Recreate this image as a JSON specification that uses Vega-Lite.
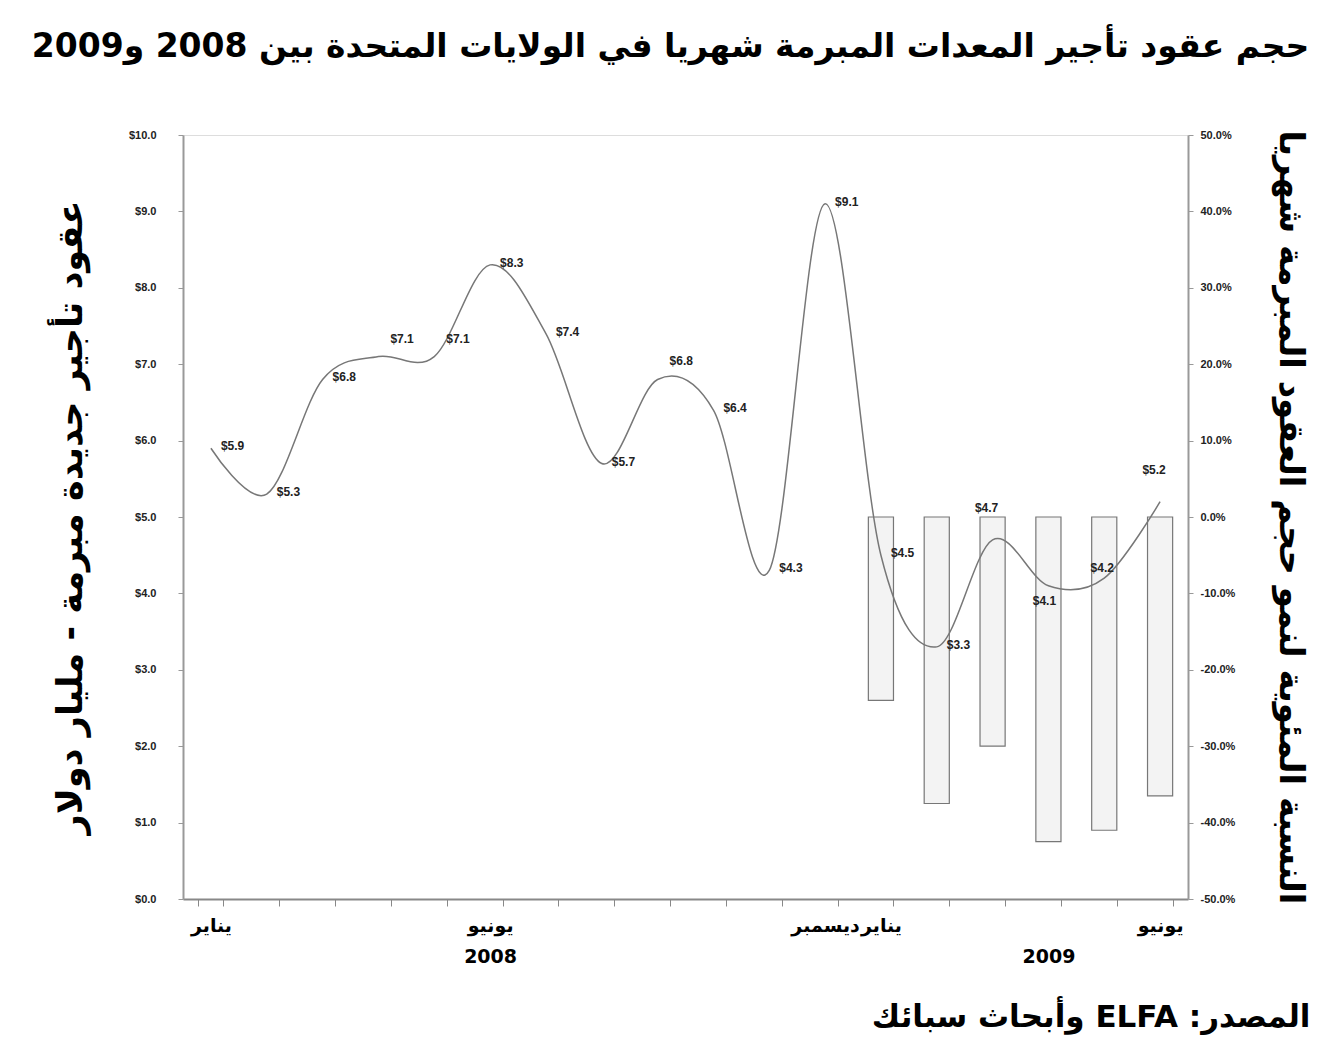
{
  "$schema": "https://vega.github.io/schema/vega-lite/v6.json",
  "width": 1005,
  "height": 764,
  "autosize": "none",
  "padding": {"left": 183, "top": 135, "right": 154, "bottom": 141},
  "background": "white",
  "title": {
    "text": "\u202bحجم عقود تأجير المعدات المبرمة شهريا في الولايات المتحدة بين 2008 و2009\u202c",
    "anchor": "middle",
    "frame": "group",
    "font": "DejaVu Sans",
    "fontSize": 33,
    "fontWeight": "bold",
    "color": "black",
    "offset": 65,
    "dx": -15
  },
  "data": {
    "values": [
      {"m": "2008-01", "v": 5.9, "g": null},
      {"m": "2008-02", "v": 5.3, "g": null},
      {"m": "2008-03", "v": 6.8, "g": null},
      {"m": "2008-04", "v": 7.1, "g": null},
      {"m": "2008-05", "v": 7.1, "g": null},
      {"m": "2008-06", "v": 8.3, "g": null},
      {"m": "2008-07", "v": 7.4, "g": null},
      {"m": "2008-08", "v": 5.7, "g": null},
      {"m": "2008-09", "v": 6.8, "g": null},
      {"m": "2008-10", "v": 6.4, "g": null},
      {"m": "2008-11", "v": 4.3, "g": null},
      {"m": "2008-12", "v": 9.1, "g": null},
      {"m": "2009-01", "v": 4.5, "g": -24},
      {"m": "2009-02", "v": 3.3, "g": -37.5},
      {"m": "2009-03", "v": 4.7, "g": -30},
      {"m": "2009-04", "v": 4.1, "g": -42.5},
      {"m": "2009-05", "v": 4.2, "g": -41},
      {"m": "2009-06", "v": 5.2, "g": -36.5}
    ]
  },
  "encoding": {
    "x": {
      "field": "m",
      "type": "ordinal",
      "sort": "ascending",
      "scale": {"paddingInner": 0.55, "paddingOuter": 0.275},
      "axis": {
        "title": "\u202bالمصدر: ELFA وأبحاث سبائك\u202c",
        "titleFont": "DejaVu Sans",
        "titleFontSize": 31,
        "titleFontWeight": "bold",
        "titleColor": "black",
        "titleAnchor": "end",
        "titleAlign": "right",
        "titleBaseline": "middle",
        "titleX": 1127,
        "titleY": 118,
        "labelExpr": "datum.value == '2008-01' ? 'يناير' : datum.value == '2008-06' ? ['يونيو', '2008'] : datum.value == '2008-12' ? 'ديسمبر' : datum.value == '2009-01' ? 'يناير' : datum.value == '2009-04' ? ['', '2009'] : datum.value == '2009-06' ? 'يونيو' : ''",
        "labelFont": "DejaVu Sans",
        "labelFontSize": 19,
        "labelFontWeight": "bold",
        "labelColor": "black",
        "labelAngle": 0,
        "labelPadding": 10,
        "labelLineHeight": 31,
        "labelOverlap": false,
        "tickBand": "extent",
        "tickSize": 7,
        "tickColor": "#888",
        "domainColor": "#888",
        "domainWidth": 2
      }
    }
  },
  "layer": [
    {
      "transform": [{"filter": "isValid(datum.g)"}],
      "mark": {"type": "bar", "fill": "#f3f3f3", "stroke": "#777", "strokeWidth": 1.2},
      "encoding": {
        "y": {
          "field": "g",
          "type": "quantitative",
          "scale": {"domain": [-50, 50]},
          "axis": {
            "orient": "right",
            "title": "النسبة المئوية لنمو حجم العقود المبرمة شهريا",
            "titleFont": "DejaVu Sans",
            "titleFontSize": 34,
            "titleFontWeight": "bold",
            "titleColor": "black",
            "titlePadding": 38,
            "values": [-50, -40, -30, -20, -10, 0, 10, 20, 30, 40, 50],
            "labelExpr": "replace(format(datum.value, '.1f'), '−', '-') + '%'",
            "labelFont": "Liberation Sans",
            "labelFontSize": 11,
            "labelFontWeight": "bold",
            "labelColor": "#222",
            "labelPadding": 7,
            "grid": false,
            "tickSize": 5,
            "tickColor": "#999",
            "domainColor": "#999",
            "domainWidth": 2
          }
        }
      }
    },
    {
      "mark": {"type": "line", "interpolate": "cardinal", "color": "#777", "strokeWidth": 1.5},
      "encoding": {
        "y": {
          "field": "v",
          "type": "quantitative",
          "scale": {"domain": [0, 10]},
          "axis": {
            "orient": "left",
            "title": "عقود تأجير جديدة مبرمة - مليار دولار",
            "titleFont": "DejaVu Sans",
            "titleFontSize": 35,
            "titleFontWeight": "bold",
            "titleColor": "black",
            "titlePadding": 40,
            "values": [0, 1, 2, 3, 4, 5, 6, 7, 8, 9, 10],
            "format": "$.1f",
            "labelFont": "Liberation Sans",
            "labelFontSize": 11,
            "labelFontWeight": "bold",
            "labelColor": "#222",
            "labelPadding": 22,
            "grid": false,
            "tickSize": 5,
            "tickColor": "#999",
            "domainColor": "#999",
            "domainWidth": 2
          }
        }
      }
    },
    {
      "transform": [{"filter": "indexof(['2008-04','2008-05','2008-09','2009-03','2009-04','2009-05','2009-06'], datum.m) < 0"}],
      "mark": {"type": "text", "align": "left", "baseline": "middle", "dx": 10, "dy": -2, "font": "Liberation Sans", "fontSize": 12, "fontWeight": "bold", "color": "#222"},
      "encoding": {
        "y": {"field": "v", "type": "quantitative", "scale": {"domain": [0, 10]}, "axis": null},
        "text": {"field": "v", "type": "quantitative", "format": "$.1f"}
      }
    },
    {
      "transform": [{"filter": "indexof(['2008-04','2008-05','2008-09'], datum.m) >= 0"}],
      "mark": {"type": "text", "align": "left", "baseline": "middle", "dx": 12, "dy": -18, "font": "Liberation Sans", "fontSize": 12, "fontWeight": "bold", "color": "#222"},
      "encoding": {
        "y": {"field": "v", "type": "quantitative", "scale": {"domain": [0, 10]}, "axis": null},
        "text": {"field": "v", "type": "quantitative", "format": "$.1f"}
      }
    },
    {
      "transform": [{"filter": "indexof(['2009-03','2009-06'], datum.m) >= 0"}],
      "mark": {"type": "text", "align": "center", "baseline": "middle", "dx": -6, "dy": -32, "font": "Liberation Sans", "fontSize": 12, "fontWeight": "bold", "color": "#222"},
      "encoding": {
        "y": {"field": "v", "type": "quantitative", "scale": {"domain": [0, 10]}, "axis": null},
        "text": {"field": "v", "type": "quantitative", "format": "$.1f"}
      }
    },
    {
      "transform": [{"filter": "datum.m == '2009-04'"}],
      "mark": {"type": "text", "align": "center", "baseline": "middle", "dx": -4, "dy": 15, "font": "Liberation Sans", "fontSize": 12, "fontWeight": "bold", "color": "#222"},
      "encoding": {
        "y": {"field": "v", "type": "quantitative", "scale": {"domain": [0, 10]}, "axis": null},
        "text": {"field": "v", "type": "quantitative", "format": "$.1f"}
      }
    },
    {
      "transform": [{"filter": "datum.m == '2009-05'"}],
      "mark": {"type": "text", "align": "center", "baseline": "middle", "dx": -2, "dy": -10, "font": "Liberation Sans", "fontSize": 12, "fontWeight": "bold", "color": "#222"},
      "encoding": {
        "y": {"field": "v", "type": "quantitative", "scale": {"domain": [0, 10]}, "axis": null},
        "text": {"field": "v", "type": "quantitative", "format": "$.1f"}
      }
    }
  ],
  "resolve": {"scale": {"y": "independent"}, "axis": {"y": "independent"}}
}
